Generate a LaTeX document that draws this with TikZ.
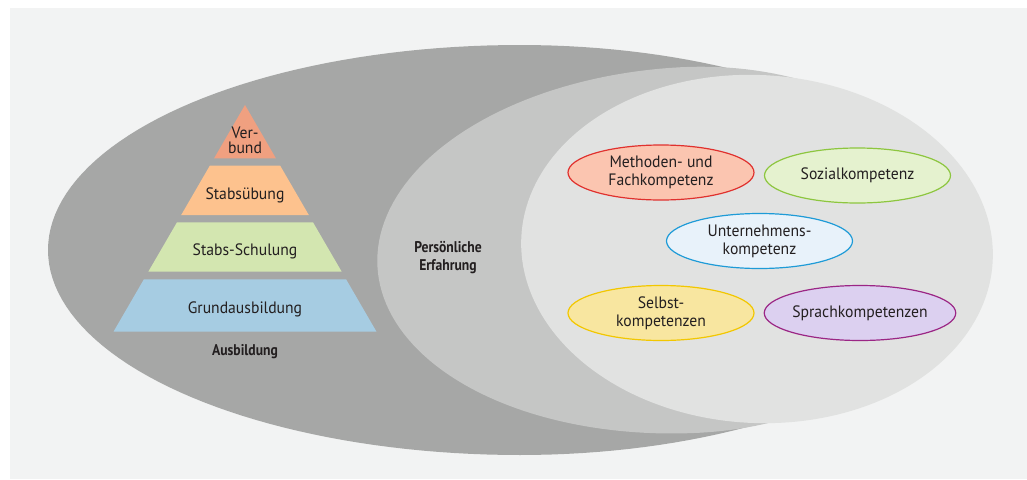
\documentclass[tikz,border=0pt]{standalone}
\usepackage{fontspec}
\setmainfont{PT Sans}
\newfontfamily\plainlbl{PT Sans}[FakeStretch=0.95]
\newfontfamily\boldlbl{PT Sans}[FakeStretch=0.88]
\usetikzlibrary{shapes.geometric}

\definecolor{panel}{HTML}{F2F3F3}
\definecolor{ringouter}{HTML}{A6A7A6}
\definecolor{ringmid}{HTML}{C5C6C5}
\definecolor{ringinner}{HTML}{E1E2E1}
\definecolor{ink}{HTML}{231F20}
\definecolor{verbundfill}{HTML}{F0A080}
\definecolor{uebungfill}{HTML}{FDC28E}
\definecolor{schulungfill}{HTML}{D3E6B0}
\definecolor{grundfill}{HTML}{A6CCE2}
\definecolor{methline}{HTML}{E0312E}
\definecolor{methfill}{HTML}{FBC5B0}
\definecolor{sozline}{HTML}{8DC63F}
\definecolor{sozfill}{HTML}{E5F2CF}
\definecolor{untline}{HTML}{1E9BD7}
\definecolor{untfill}{HTML}{E8F2FA}
\definecolor{selbline}{HTML}{F2C700}
\definecolor{selbfill}{HTML}{F8E6A0}
\definecolor{sprline}{HTML}{9B2685}
\definecolor{sprfill}{HTML}{DCD0F0}

\begin{document}
\begin{tikzpicture}[x=1pt,y=-1pt,
  bandtext/.style={font=\plainlbl\fontsize{16.5}{15}\selectfont, text=ink, inner sep=0, align=center},
  tagtext/.style={font=\boldlbl\bfseries\fontsize{15.5}{18}\selectfont, text=ink, inner sep=0, align=center},
  comp/.style={ellipse, minimum width=186pt, minimum height=55pt, inner sep=0pt,
    line width=1.2pt, align=center, text=ink,
    font=\plainlbl\fontsize{16.5}{18}\selectfont}]
\useasboundingbox (0,0) rectangle (1027,479);
\fill[white] (0,0) rectangle (1027,479);
\fill[panel] (10,8) rectangle (1027,479);

% outer ring (Ausbildung): left half-ellipse plus a slightly shorter right half
\fill[ringouter]
  plot[domain=90:270, samples=91] ({520+472*cos(\x)}, {250+205*sin(\x)})
  -- plot[domain=270:450, samples=91] ({520+450*cos(\x)}, {250+205*sin(\x)})
  -- cycle;
% middle ring (personal experience), tilted 3 degrees
\fill[ringmid]
  plot[domain=90:270, samples=91] ({690+312.57*cos(\x)+9.578*sin(\x)}, {250-16.38*cos(\x)+182.75*sin(\x)})
  -- plot[domain=270:450, samples=91] ({690+269.63*cos(\x)+9.578*sin(\x)}, {250-14.13*cos(\x)+182.75*sin(\x)})
  -- cycle;
% inner ring (competences), tilted 3 degrees the other way
\fill[ringinner]
  plot[domain=0:360, samples=181] ({757+235.68*cos(\x)-9.107*sin(\x)}, {249+12.35*cos(\x)+173.76*sin(\x)})
  -- cycle;

% training pyramid
\fill[verbundfill] (245,105) -- (275.9,158.3) -- (214.1,158.3) -- cycle;
\fill[uebungfill] (209.8,165.7) -- (280.2,165.7) -- (308.8,215) -- (181.2,215) -- cycle;
\fill[schulungfill] (177,222.3) -- (313,222.3) -- (341.7,271.7) -- (148.3,271.7) -- cycle;
\fill[grundfill] (143.9,279.3) -- (346.1,279.3) -- (376.5,331.7) -- (113.5,331.7) -- cycle;

\node[bandtext] (verbund) at (245,140.8) {Ver-\\bund};
\node[bandtext, anchor=base] (uebung) at (245,199) {Stabsübung};
\node[bandtext, anchor=base] (schulung) at (245,255.7) {Stabs-Schulung};
\node[bandtext, anchor=base] (grund) at (245,313.3) {Grundausbildung};
\node[tagtext, anchor=base] (ausbildung) at (245,355.7) {Ausbildung};

\node[tagtext, anchor=base] (erfA) at (448,252.7) {Persönliche};
\node[tagtext, anchor=base] (erfB) at (448,270.7) {Erfahrung};

% competence ellipses
\node[comp, draw=methline, fill=methfill] (meth) at (661,172.5) {Methoden- und\\Fachkompetenz};
\node[comp, draw=sozline, fill=sozfill] (soz) at (857.5,175.5) {Sozialkompetenz};
\node[comp, draw=untline, fill=untfill] (unt) at (759.5,241) {Unternehmens-\\kompetenz};
\node[comp, draw=selbline, fill=selbfill] (selb) at (661,313) {Selbst-\\kompetenzen};
\node[comp, draw=sprline, fill=sprfill] (spr) at (860,313) {Sprachkompetenzen};
\end{tikzpicture}
\end{document}
